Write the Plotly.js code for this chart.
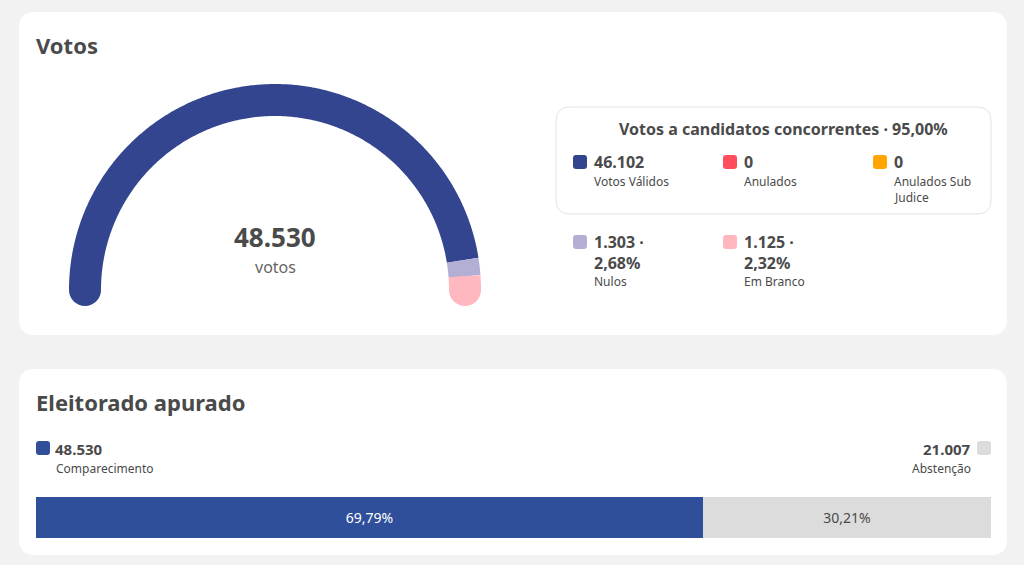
<!DOCTYPE html>
<html><head><meta charset="utf-8">
<script src="https://cdn.plot.ly/plotly-3.0.1.min.js"></script>
<style>html,body{margin:0;padding:0;background:#f2f2f2;}#chart{width:1024px;height:565px;}</style>
</head><body><div id="chart"></div>
<script>
// ---- data ----
const gaugeLabels = ['Votos Válidos', 'Nulos', 'Em Branco'];
const gaugeValues = [46102, 1303, 1125];
const gaugeColors = ['#33458f', '#b3afd4', '#ffb8c0'];

const candLabels = [['Votos Válidos'], ['Anulados'], ['Anulados Sub', 'Judice']];
const candValues = [46102, 0, 0];
const candColors = ['#33458f', '#ff4d5e', '#ffa500'];

const otherLabels = ['Nulos', 'Em Branco'];
const otherValues = [1303, 1125];
const otherColors = ['#b3afd4', '#ffb8c0'];

const electorateLabels = ['Comparecimento', 'Abstenção'];
const electorateValues = [48530, 21007];
const electorateColors = ['#2f4f9b', '#dcdcdc'];

// ---- helpers ----
const W = 1024, H = 565;
const X = p => p / W, Y = p => 1 - p / H;
const fmtInt = n => String(n).replace(/\B(?=(\d{3})+(?!\d))/g, '.');
const fmtPct = f => (f * 100).toFixed(2).replace('.', ',') + '%';
const FONT = '"Noto Sans", "Open Sans", sans-serif';
const TXT = '#4a4a4a';

function roundRect(x0, y0, x1, y1, r) {
  const rx = r / W, ry = r / H;
  const a = X(x0), b = X(x1), t = Y(y0), u = Y(y1);
  return `M ${a + rx} ${t} L ${b - rx} ${t} Q ${b} ${t} ${b} ${t - ry} L ${b} ${u + ry} Q ${b} ${u} ${b - rx} ${u} L ${a + rx} ${u} Q ${a} ${u} ${a} ${u + ry} L ${a} ${t - ry} Q ${a} ${t} ${a + rx} ${t} Z`;
}

const shapes = [];
const annotations = [];
function ann(text, x, y, size, opts = {}) {
  annotations.push(Object.assign({
    text, x: X(x), y: Y(y), xref: 'paper', yref: 'paper', showarrow: false,
    xanchor: 'left', yanchor: 'middle', align: 'left',
    font: { family: FONT, size, color: opts.color || TXT }
  }, opts));
}

// cards
shapes.push({ type: 'path', path: roundRect(19, 12, 1007, 335, 16), xref: 'paper', yref: 'paper', fillcolor: '#ffffff', line: { width: 0 }, layer: 'below' });
shapes.push({ type: 'path', path: roundRect(19, 369, 1007, 555, 16), xref: 'paper', yref: 'paper', fillcolor: '#ffffff', line: { width: 0 }, layer: 'below' });
// legend box
shapes.push({ type: 'path', path: roundRect(556, 107, 991, 214, 14), xref: 'paper', yref: 'paper', fillcolor: 'rgba(0,0,0,0)', line: { width: 1, color: '#e2e2e2' }, layer: 'below' });

ann('<b>Votos</b>', 34, 45, 22);
ann('<b>Eleitorado apurado</b>', 34, 402, 22);

// ---- gauge traces ----
const total = gaugeValues.reduce((a, b) => a + b, 0);
const traces = [];
// round end caps (drawn first so arc sits on top)
const capTh = [Math.PI, 0];
traces.push({
  type: 'scatter', mode: 'markers', xaxis: 'x', yaxis: 'y', hoverinfo: 'skip', showlegend: false,
  x: capTh.map(Math.cos), y: capTh.map(Math.sin),
  marker: { size: 32, color: [gaugeColors[0], gaugeColors[gaugeColors.length - 1]], line: { width: 0 } }
});
let cum = 0;
gaugeValues.forEach((v, i) => {
  const n = Math.max(4, Math.ceil(360 * v / total));
  const xs = [], ys = [];
  for (let k = 0; k <= n; k++) {
    const c = cum + v * k / n;
    const th = Math.PI * (1 - c / total);
    xs.push(Math.cos(th)); ys.push(Math.sin(th));
  }
  cum += v;
  traces.push({
    type: 'scatter', mode: 'lines', xaxis: 'x', yaxis: 'y', name: gaugeLabels[i],
    x: xs, y: ys, line: { color: gaugeColors[i], width: 32, simplify: false, shape: 'linear' },
    hoverinfo: 'name', showlegend: false
  });
});

// gauge axes: center at (275,290) px, radius 190 px
const R = 190, cx = 275, cy = 290;
const gx0 = 35, gx1 = 515, gy0 = 60, gy1 = 325;
const xaxis = { domain: [X(gx0), X(gx1)], range: [(gx0 - cx) / R, (gx1 - cx) / R], visible: false, fixedrange: true };
const yaxis = { domain: [Y(gy1), Y(gy0)], range: [(cy - gy1) / R, (cy - gy0) / R], visible: false, fixedrange: true };

ann('<b>' + fmtInt(total) + '</b>', cx, 237, 26, { xanchor: 'center', align: 'center' });
ann('votos', cx, 267, 16, { xanchor: 'center', align: 'center', color: '#666' });

// ---- legend ----
ann('<b>Votos a candidatos concorrentes · ' + fmtPct(candValues[0] / total) + '</b>', 783, 129, 16, { xanchor: 'center', align: 'center' });
const colX = [573, 723, 873];
function square(x, y, color) {
  shapes.push({ type: 'path', path: roundRect(x, y, x + 14, y + 14, 3), xref: 'paper', yref: 'paper', fillcolor: color, line: { width: 0 } });
}
candValues.forEach((v, i) => {
  square(colX[i], 155, candColors[i]);
  ann('<b>' + fmtInt(v) + '</b>', colX[i] + 19, 162, 16);
  candLabels[i].forEach((line, j) => ann(line, colX[i] + 19, 181 + 16 * j, 12));
});
otherValues.forEach((v, i) => {
  square(colX[i], 235, otherColors[i]);
  ann('<b>' + fmtInt(v) + ' ·</b>', colX[i] + 19, 242, 16);
  ann('<b>' + fmtPct(v / total) + '</b>', colX[i] + 19, 263, 16);
  ann(otherLabels[i], colX[i] + 19, 281, 12);
});

// ---- electorate bar ----
const eTotal = electorateValues.reduce((a, b) => a + b, 0);
electorateValues.forEach((v, i) => {
  traces.push({
    type: 'bar', orientation: 'h', xaxis: 'x2', yaxis: 'y2', name: electorateLabels[i],
    x: [v], y: [0], marker: { color: electorateColors[i], line: { width: 0 } },
    text: [fmtPct(v / eTotal)], textposition: 'inside', insidetextanchor: 'middle',
    textfont: { family: FONT, size: 14, color: i === 0 ? '#ffffff' : '#4a4a4a' },
    hoverinfo: 'name+x', showlegend: false
  });
});
const xaxis2 = { domain: [X(36), X(991)], range: [0, eTotal], visible: false, fixedrange: true };
const yaxis2 = { domain: [Y(538), Y(497)], range: [-0.5, 0.5], visible: false, fixedrange: true };

// electorate legend
square(36, 441, electorateColors[0]);
ann('<b>' + fmtInt(electorateValues[0]) + '</b>', 53, 449, 15);
ann(electorateLabels[0], 54, 468, 12);
square(977, 441, electorateColors[1]);
ann('<b>' + fmtInt(electorateValues[1]) + '</b>', 973, 449, 15, { xanchor: 'right', align: 'right' });
ann(electorateLabels[1], 973, 468, 12, { xanchor: 'right', align: 'right' });

const layout = {
  width: W, height: H, margin: { l: 0, r: 0, t: 0, b: 0, pad: 0 },
  paper_bgcolor: '#f2f2f2', plot_bgcolor: 'rgba(0,0,0,0)',
  showlegend: false, barmode: 'stack', bargap: 0,
  xaxis, yaxis, xaxis2, yaxis2, shapes, annotations,
  font: { family: FONT, color: TXT }
};
Plotly.newPlot('chart', traces, layout, { displayModeBar: false });
</script>
</body></html>
